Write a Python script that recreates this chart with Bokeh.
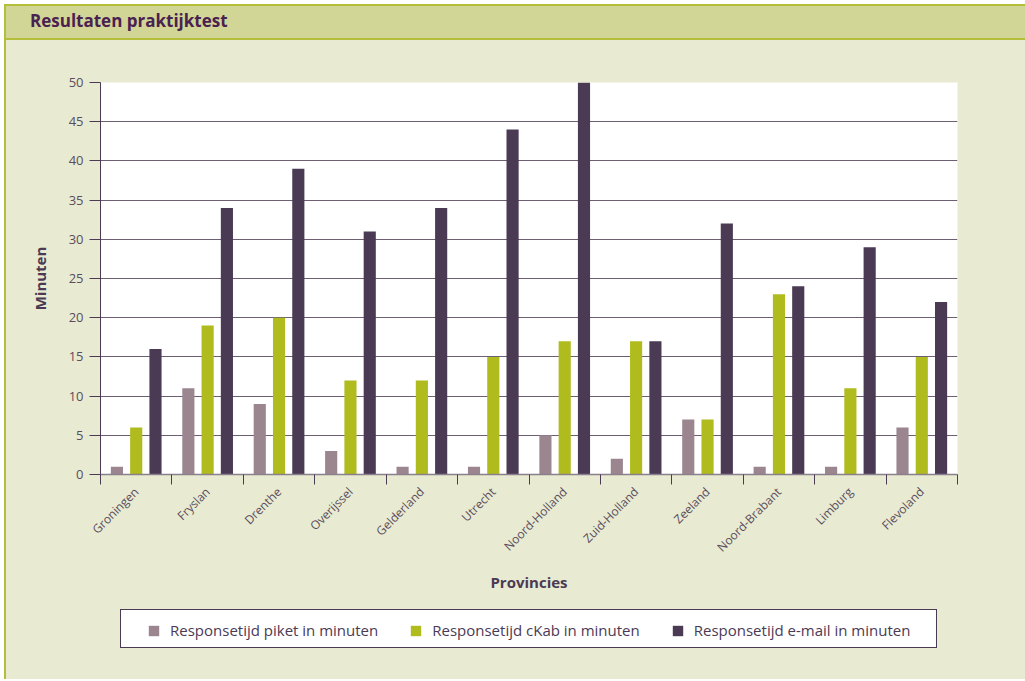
from math import pi
from bokeh.plotting import figure
from bokeh.models import (Range1d, FixedTicker, Legend, LegendItem, Div,
                          ColumnDataSource)
from bokeh.layouts import column
from bokeh.transform import dodge
from bokeh.embed import file_html
from bokeh.resources import INLINE

# ---- data ----
provinces = ["Groningen", "Fryslan", "Drenthe", "Overijssel", "Gelderland",
             "Utrecht", "Noord-Holland", "Zuid-Holland", "Zeeland",
             "Noord-Brabant", "Limburg", "Flevoland"]
piket = [1, 11, 9, 3, 1, 1, 5, 2, 7, 1, 1, 6]
ckab = [6, 19, 20, 12, 12, 15, 17, 17, 7, 23, 11, 15]
email = [16, 34, 39, 31, 34, 44, 50, 17, 32, 24, 29, 22]
series_labels = ["Responsetijd piket in minuten",
                 "Responsetijd cKab in minuten",
                 "Responsetijd e-mail in minuten"]
y_ticks = [0, 5, 10, 15, 20, 25, 30, 35, 40, 45, 50]
title_text = "Resultaten praktijktest"
x_title = "Provincies"
y_title = "Minuten"

# ---- style ----
BG = "#e8ebd1"
BAR_BG = "#d1d696"
EDGE = "#b3bf3a"
PURPLE = "#4b3a54"
TXT = "#5b4b5e"
C_PIKET = "#9b8690"
C_CKAB = "#b0bb1e"
C_EMAIL = "#4b3a54"
FONT = "Open Sans"
colors = [C_PIKET, C_CKAB, C_EMAIL]

n = len(provinces)
centers = [i + 0.5 for i in range(n)]
src = ColumnDataSource(dict(x=centers, piket=piket, ckab=ckab, email=email))

W = 1019
MBL, MBR = 94, 68

title_div = Div(text=title_text, width=W, height=36, margin=0,
                styles={"background-color": BAR_BG,
                        "border-top": f"2px solid {EDGE}",
                        "border-bottom": f"2px solid {EDGE}",
                        "box-sizing": "border-box",
                        "font-family": FONT, "font-weight": "bold",
                        "font-size": "17px", "color": "#4a2150",
                        "padding-left": "24px", "line-height": "30px"})

p = figure(width=W, height=562, output_backend="svg", toolbar_location=None,
           x_range=Range1d(0, n), y_range=Range1d(0, 50),
           min_border_left=MBL, min_border_right=MBR,
           min_border_top=42, min_border_bottom=128,
           background_fill_color="white", border_fill_color=BG,
           outline_line_color=None, margin=0)

bw = 0.17
off = 0.27
r1 = p.vbar(x=dodge("x", -off), top="piket", width=bw, source=src,
            fill_color=C_PIKET, line_color=None)
r2 = p.vbar(x=dodge("x", 0), top="ckab", width=bw, source=src,
            fill_color=C_CKAB, line_color=None)
r3 = p.vbar(x=dodge("x", off), top="email", width=bw, source=src,
            fill_color=C_EMAIL, line_color=None)

# grid
p.xgrid.visible = False
p.ygrid.ticker = FixedTicker(ticks=y_ticks)
p.ygrid.grid_line_color = "#6e5e72"
p.ygrid.grid_line_width = 1

# y axis
ya = p.yaxis[0]
ya.ticker = FixedTicker(ticks=y_ticks)
ya.axis_line_color = PURPLE
ya.major_tick_line_color = PURPLE
ya.major_tick_out = 11
ya.major_tick_in = 0
ya.minor_tick_line_color = None
ya.major_label_text_font = FONT
ya.major_label_text_font_size = "13px"
ya.major_label_text_color = TXT
ya.major_label_standoff = 6
ya.axis_label = y_title
ya.axis_label_text_font = FONT
ya.axis_label_text_font_size = "15px"
ya.axis_label_text_font_style = "bold"
ya.axis_label_text_color = PURPLE
ya.axis_label_standoff = 16

# x axis
xa = p.xaxis[0]
xa.ticker = FixedTicker(ticks=centers, minor_ticks=list(range(n + 1)))
xa.major_label_overrides = {c: name for c, name in zip(centers, provinces)}
xa.major_tick_line_color = None
xa.minor_tick_line_color = PURPLE
xa.minor_tick_out = 10
xa.minor_tick_in = 0
xa.axis_line_color = "#8a7f8c"
xa.axis_line_width = 1.5
xa.major_label_orientation = pi / 4
xa.major_label_text_font = FONT
xa.major_label_text_font_size = "12px"
xa.major_label_text_color = TXT
xa.major_label_standoff = 5
xa.axis_label = x_title
xa.axis_label_text_font = FONT
xa.axis_label_text_font_size = "15px"
xa.axis_label_text_font_style = "bold"
xa.axis_label_text_color = PURPLE
xa.axis_label_standoff = 8

# ---- legend strip below the chart ----
lf = figure(width=W, height=77, output_backend="svg", toolbar_location=None,
            x_axis_location=None, y_axis_location=None,
            min_border_left=MBL, min_border_right=MBR,
            min_border_top=0, min_border_bottom=0,
            background_fill_alpha=0, border_fill_color=BG,
            outline_line_color=None, margin=0)
lf.grid.visible = False
swatches = [lf.vbar(x=[0], top=[0], width=0, fill_color=c, line_color=None)
            for c in colors]
holder = lf.scatter(x=[0], y=[0], alpha=0)

# box of the legend
box = Legend(items=[LegendItem(label=" ", renderers=[holder])],
             location=(20, 31), orientation="horizontal",
             padding=0, margin=0, glyph_width=1, glyph_height=1,
             label_standoff=0, label_width=814, label_height=37,
             border_line_color=PURPLE, border_line_width=1.5,
             border_line_alpha=1,
             background_fill_color="white", background_fill_alpha=1,
             label_text_alpha=0)
lf.add_layout(box, "center")

leg = Legend(items=[LegendItem(label=lab, renderers=[r])
                    for lab, r in zip(series_labels, swatches)],
             location=(47, 39), orientation="horizontal",
             padding=0, margin=0, spacing=31, glyph_width=13, glyph_height=13,
             label_standoff=10, label_height=20,
             border_line_alpha=0, background_fill_alpha=0,
             label_text_font=FONT, label_text_font_size="15px",
             label_text_color=PURPLE)
lf.add_layout(leg, "center")

layout = column(title_div, p, lf, spacing=0, margin=(4, 0, 0, 4),
                styles={"border-left": f"2px solid {EDGE}",
                        "background-color": BG})

open("out.html", "w").write(file_html(layout, INLINE))
